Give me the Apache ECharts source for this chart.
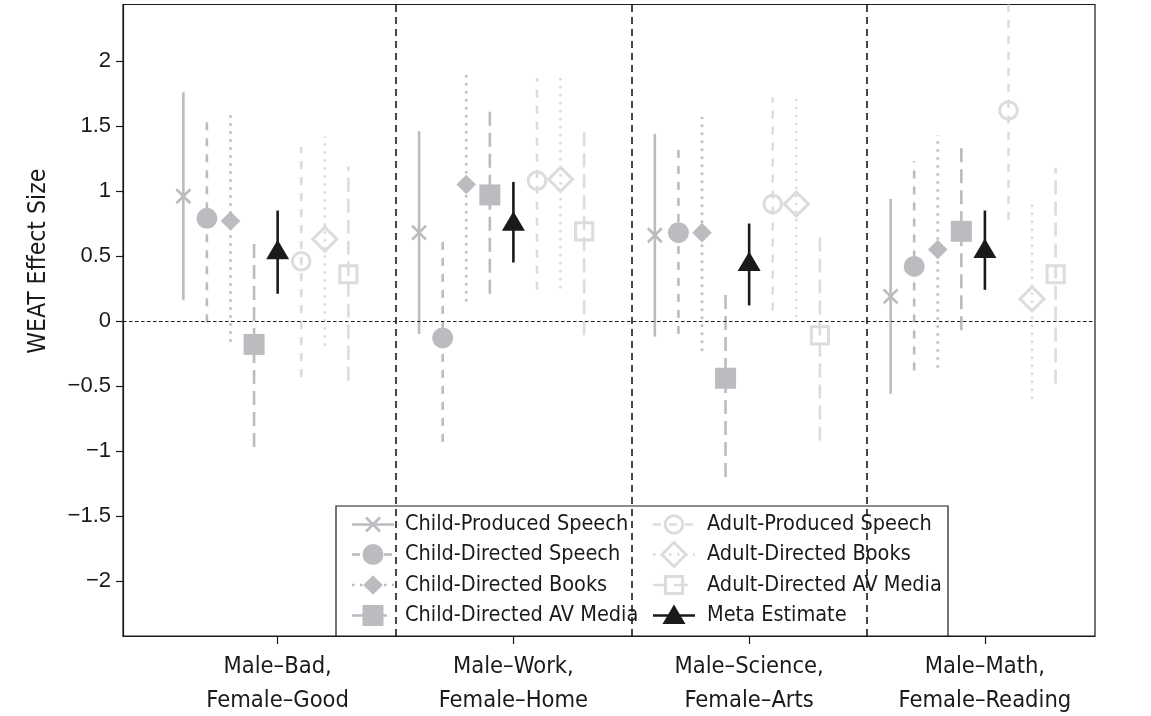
<!DOCTYPE html>
<html><head><meta charset="utf-8">
<script src="https://cdn.jsdelivr.net/npm/echarts@6/dist/echarts.min.js"></script>
<style>html,body{margin:0;padding:0;background:#fff}#c{width:1151px;height:716px}</style>
</head><body><div id="c"></div>
<script>
// ---------- data ----------
const categories = ['Male\u2013Bad,\nFemale\u2013Good', 'Male\u2013Work,\nFemale\u2013Home', 'Male\u2013Science,\nFemale\u2013Arts', 'Male\u2013Math,\nFemale\u2013Reading'];
const categoryPositions = [1, 2, 3, 4];
const yTicks = [-2, -1.5, -1, -0.5, 0, 0.5, 1, 1.5, 2];
const separators = [1.5, 2.5, 3.5];
const seriesNames = ['Child-Produced Speech', 'Child-Directed Speech', 'Child-Directed Books', 'Child-Directed AV Media', 'Meta Estimate', 'Adult-Produced Speech', 'Adult-Directed Books', 'Adult-Directed AV Media'];
const offsets = [-0.4, -0.3, -0.2, -0.1, 0, 0.1, 0.2, 0.3];

const cpsEst  = [0.96, 0.68, 0.66, 0.19];
const cpsLow  = [0.16, -0.10, -0.12, -0.56];
const cpsHigh = [1.76, 1.46, 1.44, 0.94];
const cdsEst  = [0.79, -0.13, 0.68, 0.42];
const cdsLow  = [-0.01, -0.93, -0.10, -0.38];
const cdsHigh = [1.59, 0.66, 1.37, 1.23];
const cdbEst  = [0.77, 1.05, 0.68, 0.55];
const cdbLow  = [-0.16, 0.15, -0.23, -0.36];
const cdbHigh = [1.62, 1.93, 1.57, 1.43];
const cdavEst  = [-0.18, 0.97, -0.44, 0.69];
const cdavLow  = [-0.97, 0.21, -1.20, -0.07];
const cdavHigh = [0.60, 1.65, 0.24, 1.37];
const metaEst  = [0.54, 0.76, 0.45, 0.55];
const metaLow  = [0.21, 0.45, 0.12, 0.24];
const metaHigh = [0.85, 1.07, 0.75, 0.85];
const apsEst  = [0.46, 1.08, 0.90, 1.62];
const apsLow  = [-0.43, 0.24, 0.08, 0.78];
const apsHigh = [1.34, 1.87, 1.72, 2.50];
const adbEst  = [0.63, 1.09, 0.90, 0.17];
const adbLow  = [-0.19, 0.25, 0.03, -0.60];
const adbHigh = [1.42, 1.87, 1.74, 0.93];
const adavEst  = [0.36, 0.69, -0.11, 0.36];
const adavLow  = [-0.46, -0.11, -0.92, -0.48];
const adavHigh = [1.19, 1.48, 0.69, 1.18];

const seriesData = [
  [cpsEst, cpsLow, cpsHigh], [cdsEst, cdsLow, cdsHigh], [cdbEst, cdbLow, cdbHigh], [cdavEst, cdavLow, cdavHigh],
  [metaEst, metaLow, metaHigh], [apsEst, apsLow, apsHigh], [adbEst, adbLow, adbHigh], [adavEst, adavLow, adavHigh]
];

// ---------- styles ----------
const MID = '#bbbcc0', LIGHT = '#dcdcdf', INK = '#1a1a1a';
const NARROW = "'DejaVu Sans Condensed','Liberation Sans Narrow',sans-serif";
const REG = "'Liberation Sans',Arial,sans-serif";
const styles = [
  {color: MID, dash: null, marker: 'cross', filled: true},
  {color: MID, dash: [8, 8], marker: 'circle', filled: true},
  {color: MID, dash: [2.5, 5.5], marker: 'diamond', filled: true},
  {color: MID, dash: [14, 7], marker: 'square', filled: true},
  {color: INK, dash: null, marker: 'triangle', filled: true},
  {color: LIGHT, dash: [8, 8], marker: 'circle', filled: false},
  {color: LIGHT, dash: [2.5, 5.5], marker: 'diamond', filled: false},
  {color: LIGHT, dash: [14, 7], marker: 'square', filled: false}
];

function markerEls(st, cx, cy) {
  const f = st.filled;
  const fillStyle = f ? {fill: st.color, stroke: null} : {fill: 'transparent', stroke: st.color, lineWidth: 3};
  switch (st.marker) {
    case 'cross':
      return [
        {type: 'line', shape: {x1: cx - 7, y1: cy - 7, x2: cx + 7, y2: cy + 7}, style: {stroke: st.color, lineWidth: 2.6}},
        {type: 'line', shape: {x1: cx - 7, y1: cy + 7, x2: cx + 7, y2: cy - 7}, style: {stroke: st.color, lineWidth: 2.6}}
      ];
    case 'circle':
      return [{type: 'circle', shape: {cx, cy, r: f ? 10.5 : 8.8}, style: fillStyle}];
    case 'diamond': {
      const h = f ? 9.8 : 12;
      return [{type: 'polygon', shape: {points: [[cx, cy - h], [cx + h, cy], [cx, cy + h], [cx - h, cy]]}, style: fillStyle}];
    }
    case 'square': {
      const h = f ? 10.5 : 8.6;
      return [{type: 'rect', shape: {x: cx - h, y: cy - h, width: 2 * h, height: 2 * h}, style: fillStyle}];
    }
    case 'triangle':
      return [{type: 'polygon', shape: {points: [[cx, cy - 11], [cx + 11.5, cy + 8.5], [cx - 11.5, cy + 8.5]]}, style: fillStyle}];
  }
  return [];
}

function makeRender(st) {
  return function (params, api) {
    const x = api.value(0);
    const pv = api.coord([x, api.value(1)]);
    const pl = api.coord([x, api.value(2)]);
    const ph = api.coord([x, api.value(3)]);
    const cs = params.coordSys;
    const top = Math.max(ph[1], cs.y);
    const bot = Math.min(pl[1], cs.y + cs.height);
    const children = [{type: 'line', shape: {x1: pv[0], y1: bot, x2: pv[0], y2: top},
      style: {stroke: st.color, lineWidth: 2.6, lineDash: st.dash}}];
    return {type: 'group', children: children.concat(markerEls(st, pv[0], pv[1]))};
  };
}

const series = seriesNames.map((name, i) => ({
  name, type: 'custom', z: i === 4 ? 6 : 4,
  renderItem: makeRender(styles[i]),
  data: categoryPositions.map((c, g) => [c + offsets[i], seriesData[i][0][g], seriesData[i][1][g], seriesData[i][2][g]])
}));

// reference lines
series.push({
  type: 'custom', name: 'ref', z: 2, silent: true, renderItem: () => null, data: [],
  markLine: {
    silent: true, symbol: 'none', label: {show: false}, animation: false,
    data: separators.map(v => ({xAxis: v, lineStyle: {color: INK, width: 1.6, type: [7, 5]}}))
      .concat([{yAxis: 0, lineStyle: {color: INK, width: 1.1, type: [3.5, 2.5]}}])
  }
});

// legend drawn as graphic
const legendOrder = [[0, 1, 2, 3], [5, 6, 7, 4]];
const legendCols = [{sx: 373, tx: 405}, {sx: 674, tx: 707}];
const legendRows = [524.5, 554.5, 585, 615.5];
const legendEls = [{type: 'rect', shape: {x: 336, y: 506, width: 612, height: 130}, style: {fill: '#fff', stroke: INK, lineWidth: 1.2}}];
legendOrder.forEach((col, ci) => col.forEach((si, ri) => {
  const st = styles[si], cx = legendCols[ci].sx, cy = legendRows[ri];
  legendEls.push({type: 'line', shape: {x1: cx - 21, y1: cy, x2: cx + 21, y2: cy}, style: {stroke: st.color, lineWidth: 2.6, lineDash: st.dash}});
  markerEls(st, cx, cy).forEach(e => legendEls.push(e));
  legendEls.push({type: 'text', x: legendCols[ci].tx, y: cy, style: {text: seriesNames[si], font: '21.5px ' + NARROW, fill: INK, verticalAlign: 'middle', align: 'left'}});
}));

const chart = echarts.init(document.getElementById('c'), null, {renderer: 'canvas'});
chart.setOption({
  animation: false,
  backgroundColor: '#fff',
  grid: {left: 123, right: 56, top: 4.5, bottom: 80, show: true, outerBoundsMode: 'none', containLabel: false,
    borderColor: INK, borderWidth: 1.2, backgroundColor: 'transparent'},
  xAxis: {
    type: 'value', min: 0.344, max: 4.467,
    axisLine: {show: true, onZero: false, lineStyle: {color: INK, width: 1.2}},
    axisTick: {show: true, length: 8, customValues: categoryPositions, lineStyle: {color: INK, width: 1.2}},
    axisLabel: {customValues: categoryPositions, formatter: v => categories[Math.round(v) - 1], fontFamily: NARROW, fontSize: 23.5, lineHeight: 34, color: INK, margin: 14},
    splitLine: {show: false}
  },
  yAxis: {
    type: 'value', min: -2.423, max: 2.435,
    name: 'WEAT Effect Size', nameLocation: 'middle', nameGap: 72, nameRotate: 90,
    nameTextStyle: {fontFamily: NARROW, fontSize: 24.5, color: INK, padding: [0, 0, 0, 118]},
    axisLine: {show: true, lineStyle: {color: INK, width: 1.2}},
    axisTick: {show: true, length: 7, customValues: yTicks, lineStyle: {color: INK, width: 1.2}},
    axisLabel: {customValues: yTicks, formatter: v => String(v).replace('-', '\u2212'), fontFamily: REG, fontSize: 22, color: INK, margin: 12},
    splitLine: {show: false}
  },
  graphic: [{type: 'group', z: 100, children: legendEls}],
  series
});
</script></body></html>
